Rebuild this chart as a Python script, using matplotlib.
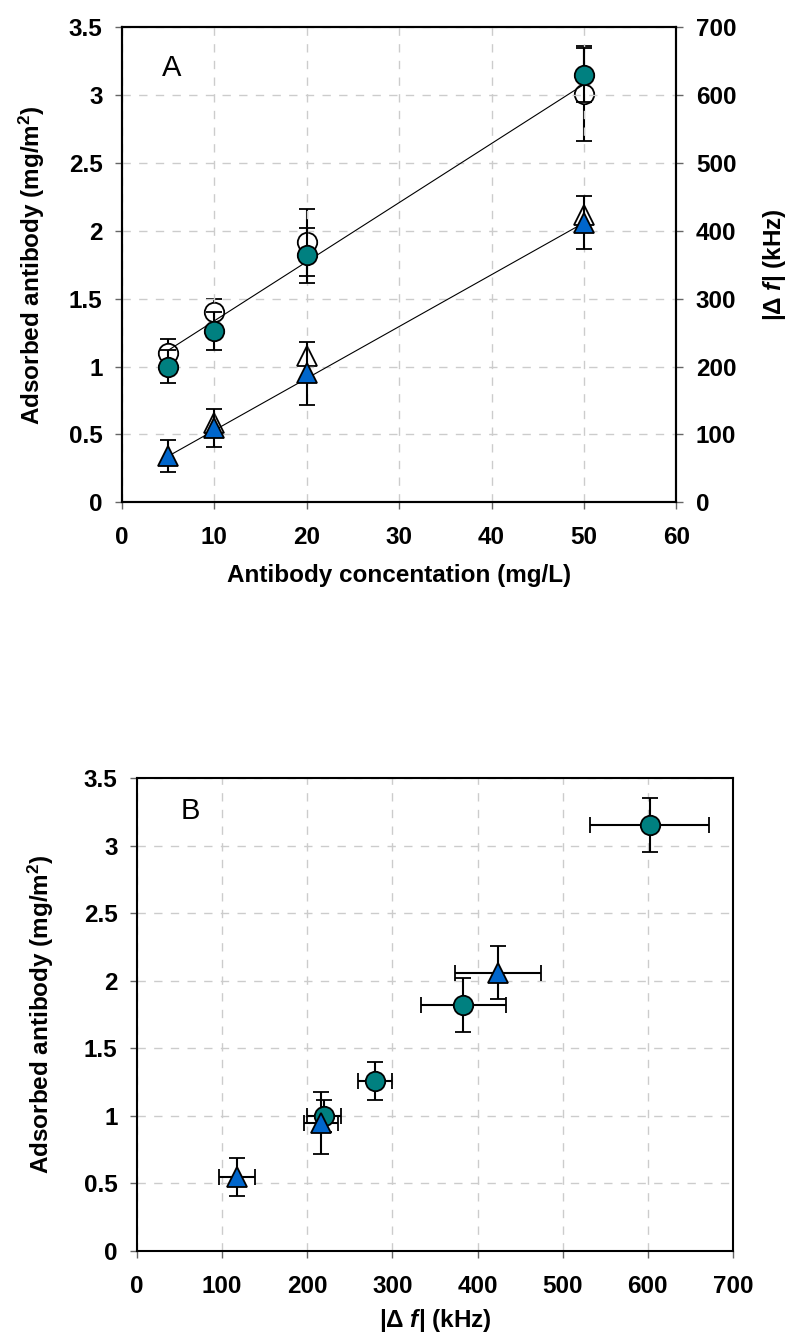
import matplotlib
matplotlib.use("Agg")
import matplotlib.pyplot as plt

plt.rcParams['font.family'] = ['Liberation Sans', 'DejaVu Sans']
plt.rcParams['mathtext.fontset'] = 'custom'
plt.rcParams['mathtext.rm'] = 'Liberation Sans:bold'
plt.rcParams['mathtext.bf'] = 'Liberation Sans:bold'
plt.rcParams['mathtext.it'] = 'Liberation Sans:italic:bold'

# antibody concentration (mg/L)
conc = [5, 10, 20, 50]
# adsorbed antibody, filled circles (mg/m2)
ads_circ = [1.00, 1.26, 1.82, 3.15]
ads_circ_err = [0.12, 0.14, 0.20, 0.20]
# |delta f|, open circles (kHz)
df_circ = [220, 280, 383, 602]
df_circ_err = [20, 20, 50, 70]
# adsorbed antibody, filled triangles
ads_tri = [0.34, 0.55, 0.95, 2.06]
ads_tri_err = [0.12, 0.14, 0.23, 0.195]
# |delta f|, open triangles (no point at 5 mg/L)
conc_tri_df = [10, 20, 50]
df_tri = [117, 216, 424]
df_tri_err = [21, 20, 50]
# trend lines
fit_x = [5, 50]
fit_circ = [1.12, 3.08]
fit_tri = [0.34, 2.06]

teal = '#008080'
blue = '#0066CC'
grid_kw = dict(color='#cccccc', linestyle=(0, (6, 6)), linewidth=1.0)
tick_fs = 17.5
lab_fs = 17.5
ms_c = 14
ms_t = 15
eb_kw = dict(ecolor='black', elinewidth=1.5, capsize=6, capthick=1.5, mec='black', mew=1.3)

fig = plt.figure(figsize=(7.92, 13.36), dpi=100)

# ---- panel A
ax = fig.add_axes([0.154, 0.624, 0.700, 0.3555])
ax2 = ax.twinx()
ax.set_zorder(ax2.get_zorder() + 1)
ax.patch.set_visible(False)

ax2.errorbar(conc, df_circ, yerr=df_circ_err, fmt='o', ms=ms_c, mfc='white', **eb_kw)
ax2.plot(conc_tri_df, df_tri, '^', ms=ms_t, mfc='white', mec='black', mew=1.3)

ax.plot(fit_x, fit_circ, color='black', lw=0.8)
ax.plot(fit_x, fit_tri, color='black', lw=0.8)
ax.errorbar(conc, ads_circ, yerr=ads_circ_err, fmt='o', ms=ms_c, mfc=teal, **eb_kw)
ax.errorbar(conc, ads_tri, yerr=ads_tri_err, fmt='^', ms=ms_t, mfc=blue, **eb_kw)

ax.set_xlim(0, 60)
ax.set_ylim(0, 3.5)
ax2.set_ylim(0, 700)
ax.set_xticks(range(0, 61, 10))
ax.set_yticks([0, 0.5, 1, 1.5, 2, 2.5, 3, 3.5])
ax.set_yticklabels(['0', '0.5', '1', '1.5', '2', '2.5', '3', '3.5'])
ax2.set_yticks(range(0, 701, 100))
ax2.grid(False)
ax.grid(True, **grid_kw)
ax.set_axisbelow(True)
ax.text(0.09, 0.914, 'A', transform=ax.transAxes, fontsize=21, va='center', ha='center')
ax.set_xlabel('Antibody concentation (mg/L)', fontsize=lab_fs, fontweight='bold', labelpad=11)
ax.set_ylabel(r'Adsorbed antibody (mg/m$^{2}$)', fontsize=lab_fs, fontweight='bold', labelpad=16)
ax2.set_ylabel(r'|$\Delta$ $f$| (kHz)', fontsize=lab_fs, fontweight='bold', labelpad=18)

# ---- panel B
bx = fig.add_axes([0.173, 0.0636, 0.7525, 0.354])
bx.errorbar(df_circ, ads_circ, xerr=df_circ_err, yerr=ads_circ_err, fmt='o', ms=ms_c,
            mfc=teal, **eb_kw)
bx.errorbar(df_tri, ads_tri[1:], xerr=df_tri_err, yerr=ads_tri_err[1:], fmt='^', ms=ms_t,
            mfc=blue, **eb_kw)
bx.set_xlim(0, 700)
bx.set_ylim(0, 3.5)
bx.set_xticks(range(0, 701, 100))
bx.set_yticks([0, 0.5, 1, 1.5, 2, 2.5, 3, 3.5])
bx.set_yticklabels(['0', '0.5', '1', '1.5', '2', '2.5', '3', '3.5'])
bx.grid(True, **grid_kw)
bx.set_axisbelow(True)
bx.text(0.09, 0.93, 'B', transform=bx.transAxes, fontsize=21, va='center', ha='center')
bx.set_xlabel(r'|$\Delta$ $f$| (kHz)', fontsize=lab_fs, fontweight='bold', labelpad=7)
bx.set_ylabel(r'Adsorbed antibody (mg/m$^{2}$)', fontsize=lab_fs, fontweight='bold', labelpad=20)

for a in (ax, ax2, bx):
    for s in a.spines.values():
        s.set_linewidth(1.5)
        s.set_color('black')
    a.tick_params(direction='out', length=5, width=1, color='#666666', labelsize=tick_fs)
    a.tick_params(axis='x', pad=12)
    a.tick_params(axis='y', pad=9)
    for lab in a.get_xticklabels() + a.get_yticklabels():
        lab.set_fontweight('bold')

fig.savefig('out.png', dpi=100)
